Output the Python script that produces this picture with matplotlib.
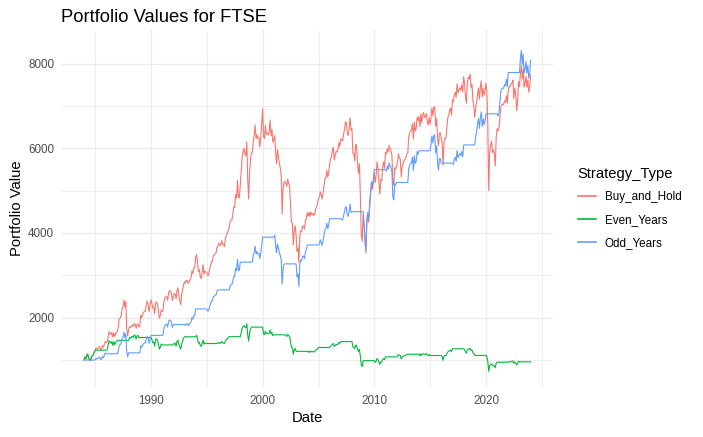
import datetime as dt
import matplotlib
matplotlib.use("Agg")
import matplotlib.pyplot as plt
import matplotlib.dates as mdates
from matplotlib.ticker import FixedLocator, NullFormatter
import pandas as pd

# ---------------- data (start value + month-end values, Jan 1984 - Dec 2023) ----------------
start_date = "1984-01-03"

buy_and_hold = [1000,
    1070, 1030, 1110, 1140, 1040, 1020, 990, 1070, 1100, 1120, 1180, 1232,
    1280, 1260, 1280, 1290, 1320, 1240, 1260, 1340, 1300, 1380, 1440, 1413,
    1430, 1540, 1670, 1630, 1600, 1650, 1540, 1640, 1560, 1630, 1640, 1679,
    1810, 1980, 1990, 2050, 2200, 2250, 2420, 2250, 2370, 1750, 1570, 1713,
    1790, 1770, 1800, 1830, 1790, 1860, 1850, 1750, 1830, 1850, 1780, 1793,
    2050, 2000, 2070, 2120, 2150, 2150, 2300, 2390, 2300, 2140, 2280, 2423,
    2340, 2230, 2250, 2100, 2350, 2370, 2330, 2160, 1990, 2050, 2180, 2144,
    2170, 2380, 2460, 2490, 2500, 2410, 2590, 2640, 2620, 2570, 2400, 2493,
    2570, 2560, 2440, 2650, 2700, 2520, 2400, 2310, 2550, 2660, 2780, 2847,
    2810, 2880, 2880, 2810, 2840, 2900, 2930, 3100, 3040, 3170, 3170, 3418,
    3490, 3330, 3090, 3130, 2970, 2920, 3080, 3250, 3030, 3100, 3080, 3066,
    2990, 3010, 3140, 3220, 3320, 3320, 3460, 3480, 3510, 3530, 3660, 3689,
    3760, 3730, 3700, 3820, 3750, 3710, 3680, 3870, 3950, 3980, 4060, 4119,
    4270, 4310, 4310, 4440, 4620, 4600, 4910, 4820, 5240, 4840, 4830, 5136,
    5460, 5770, 5930, 6000, 5870, 5830, 6150, 5250, 4800, 5440, 5740, 5883,
    5900, 6180, 6300, 6550, 6230, 6320, 6230, 6250, 6030, 6260, 6600, 6930,
    6270, 6230, 6540, 6330, 6360, 6310, 6370, 6670, 6290, 6440, 6140, 6222,
    6300, 5920, 5630, 5970, 5800, 5640, 5530, 5350, 4450, 5040, 5200, 5217,
    5160, 5100, 5270, 5170, 5090, 4660, 4250, 4230, 3720, 4040, 4170, 3940,
    3570, 3650, 3300, 3930, 4050, 4030, 4160, 4160, 4090, 4290, 4340, 4477,
    4390, 4490, 4390, 4490, 4430, 4460, 4410, 4460, 4570, 4620, 4700, 4814,
    4850, 4970, 4890, 4800, 4960, 5110, 5280, 5300, 5480, 5320, 5420, 5619,
    5760, 5790, 5960, 6020, 5720, 5830, 5930, 5910, 5960, 6130, 6050, 6221,
    6200, 6170, 6310, 6450, 6620, 6610, 6360, 6300, 6470, 6720, 6430, 6457,
    5880, 5880, 5700, 6090, 6050, 5630, 5410, 5640, 4900, 3950, 3800, 4434,
    4150, 3830, 3530, 4240, 4420, 4250, 4610, 4910, 5130, 5040, 5190, 5413,
    5190, 5350, 5680, 5550, 5190, 4920, 5260, 5230, 5550, 5680, 5530, 5900,
    5860, 5990, 5910, 6070, 5990, 5950, 5820, 5200, 5130, 5540, 5510, 5572,
    5680, 5870, 5770, 5740, 5320, 5570, 5640, 5710, 5740, 5780, 5870, 5898,
    6280, 6360, 6410, 6430, 6580, 6220, 6620, 6410, 6460, 6730, 6650, 6749,
    6510, 6810, 6600, 6780, 6840, 6740, 6730, 6820, 6620, 6550, 6720, 6566,
    6750, 6950, 6770, 6960, 6980, 6520, 6700, 6250, 6060, 6360, 6360, 6242,
    6080, 5600, 6170, 6240, 6230, 6500, 6720, 6780, 6900, 6950, 6780, 7143,
    7100, 7260, 7320, 7200, 7520, 7310, 7370, 7430, 7370, 7490, 7330, 7688,
    7530, 7230, 7060, 7510, 7680, 7640, 7750, 7430, 7510, 7130, 6980, 6728,
    6970, 7070, 7280, 7420, 7160, 7430, 7590, 7210, 7410, 7250, 7350, 7542,
    7290, 6580, 5000, 5900, 6080, 6170, 5900, 5960, 5870, 5580, 6270, 6461,
    6410, 6480, 6710, 6970, 7020, 7040, 7030, 7120, 7090, 7240, 7060, 7385,
    7460, 7460, 7520, 7540, 7610, 7170, 7420, 7280, 6890, 7090, 7570, 7452,
    7770, 7950, 7630, 7870, 7450, 7530, 7700, 7440, 7610, 7320, 7450, 7733,
]

even_years = [1000,
    1070, 1030, 1110, 1140, 1040, 1020, 990, 1070, 1100, 1120, 1180, 1232,
    1232, 1232, 1232, 1232, 1232, 1232, 1232, 1232, 1232, 1232, 1232, 1232,
    1247, 1343, 1456, 1421, 1395, 1439, 1343, 1430, 1360, 1421, 1430, 1464,
    1464, 1464, 1464, 1464, 1464, 1464, 1464, 1464, 1464, 1464, 1464, 1464,
    1530, 1513, 1538, 1564, 1530, 1590, 1581, 1496, 1564, 1581, 1521, 1532,
    1532, 1532, 1532, 1532, 1532, 1532, 1532, 1532, 1532, 1532, 1532, 1532,
    1480, 1410, 1423, 1328, 1486, 1499, 1473, 1366, 1258, 1296, 1378, 1356,
    1356, 1356, 1356, 1356, 1356, 1356, 1356, 1356, 1356, 1356, 1356, 1356,
    1398, 1392, 1327, 1441, 1469, 1371, 1305, 1256, 1387, 1447, 1512, 1548,
    1548, 1548, 1548, 1548, 1548, 1548, 1548, 1548, 1548, 1548, 1548, 1548,
    1581, 1508, 1399, 1418, 1345, 1322, 1395, 1472, 1372, 1404, 1395, 1389,
    1389, 1389, 1389, 1389, 1389, 1389, 1389, 1389, 1389, 1389, 1389, 1389,
    1416, 1404, 1393, 1438, 1412, 1397, 1386, 1457, 1487, 1498, 1529, 1551,
    1551, 1551, 1551, 1551, 1551, 1551, 1551, 1551, 1551, 1551, 1551, 1551,
    1649, 1743, 1791, 1812, 1773, 1761, 1857, 1586, 1450, 1643, 1733, 1777,
    1777, 1777, 1777, 1777, 1777, 1777, 1777, 1777, 1777, 1777, 1777, 1777,
    1608, 1597, 1677, 1623, 1631, 1618, 1633, 1710, 1613, 1651, 1574, 1595,
    1595, 1595, 1595, 1595, 1595, 1595, 1595, 1595, 1595, 1595, 1595, 1595,
    1577, 1559, 1611, 1581, 1556, 1425, 1299, 1293, 1137, 1235, 1275, 1205,
    1205, 1205, 1205, 1205, 1205, 1205, 1205, 1205, 1205, 1205, 1205, 1205,
    1182, 1209, 1182, 1209, 1192, 1201, 1187, 1201, 1230, 1244, 1265, 1296,
    1296, 1296, 1296, 1296, 1296, 1296, 1296, 1296, 1296, 1296, 1296, 1296,
    1328, 1335, 1374, 1388, 1319, 1344, 1368, 1363, 1374, 1414, 1395, 1435,
    1435, 1435, 1435, 1435, 1435, 1435, 1435, 1435, 1435, 1435, 1435, 1435,
    1307, 1307, 1267, 1353, 1344, 1251, 1202, 1253, 1089, 878, 844, 985,
    985, 985, 985, 985, 985, 985, 985, 985, 985, 985, 985, 985,
    944, 974, 1034, 1010, 944, 895, 957, 952, 1010, 1034, 1006, 1074,
    1074, 1074, 1074, 1074, 1074, 1074, 1074, 1074, 1074, 1074, 1074, 1074,
    1095, 1131, 1112, 1106, 1025, 1074, 1087, 1101, 1106, 1114, 1131, 1137,
    1137, 1137, 1137, 1137, 1137, 1137, 1137, 1137, 1137, 1137, 1137, 1137,
    1097, 1147, 1112, 1142, 1152, 1135, 1134, 1149, 1115, 1103, 1132, 1106,
    1106, 1106, 1106, 1106, 1106, 1106, 1106, 1106, 1106, 1106, 1106, 1106,
    1077, 992, 1093, 1106, 1104, 1152, 1191, 1201, 1223, 1231, 1201, 1266,
    1266, 1266, 1266, 1266, 1266, 1266, 1266, 1266, 1266, 1266, 1266, 1266,
    1240, 1191, 1163, 1237, 1265, 1258, 1276, 1224, 1237, 1174, 1149, 1108,
    1108, 1108, 1108, 1108, 1108, 1108, 1108, 1108, 1108, 1108, 1108, 1108,
    1071, 967, 735, 867, 893, 906, 867, 876, 862, 820, 921, 949,
    949, 949, 949, 949, 949, 949, 949, 949, 949, 949, 949, 949,
    959, 959, 966, 969, 978, 921, 953, 935, 885, 911, 973, 958,
    958, 958, 958, 958, 958, 958, 958, 958, 958, 958, 958, 958,
]

odd_years = [1000,
    1000, 1000, 1000, 1000, 1000, 1000, 1000, 1000, 1000, 1000, 1000, 1000,
    1039, 1023, 1039, 1047, 1071, 1006, 1023, 1088, 1055, 1120, 1169, 1147,
    1147, 1147, 1147, 1147, 1147, 1147, 1147, 1147, 1147, 1147, 1147, 1147,
    1237, 1353, 1359, 1400, 1503, 1537, 1653, 1537, 1619, 1196, 1073, 1170,
    1170, 1170, 1170, 1170, 1170, 1170, 1170, 1170, 1170, 1170, 1170, 1170,
    1338, 1305, 1351, 1383, 1403, 1403, 1501, 1560, 1501, 1396, 1488, 1581,
    1581, 1581, 1581, 1581, 1581, 1581, 1581, 1581, 1581, 1581, 1581, 1581,
    1600, 1755, 1814, 1836, 1844, 1777, 1910, 1947, 1932, 1895, 1770, 1838,
    1838, 1838, 1838, 1838, 1838, 1838, 1838, 1838, 1838, 1838, 1838, 1838,
    1814, 1859, 1859, 1814, 1833, 1872, 1892, 2001, 1963, 2047, 2047, 2207,
    2207, 2207, 2207, 2207, 2207, 2207, 2207, 2207, 2207, 2207, 2207, 2207,
    2152, 2167, 2260, 2318, 2390, 2390, 2491, 2505, 2527, 2541, 2635, 2655,
    2655, 2655, 2655, 2655, 2655, 2655, 2655, 2655, 2655, 2655, 2655, 2655,
    2752, 2778, 2778, 2862, 2978, 2965, 3165, 3107, 3378, 3120, 3113, 3311,
    3311, 3311, 3311, 3311, 3311, 3311, 3311, 3311, 3311, 3311, 3311, 3311,
    3321, 3478, 3546, 3686, 3506, 3557, 3506, 3518, 3394, 3523, 3714, 3900,
    3900, 3900, 3900, 3900, 3900, 3900, 3900, 3900, 3900, 3900, 3900, 3900,
    3949, 3711, 3529, 3742, 3635, 3535, 3466, 3353, 2789, 3159, 3259, 3270,
    3270, 3270, 3270, 3270, 3270, 3270, 3270, 3270, 3270, 3270, 3270, 3270,
    2963, 3029, 2739, 3262, 3361, 3345, 3452, 3452, 3394, 3560, 3602, 3716,
    3716, 3716, 3716, 3716, 3716, 3716, 3716, 3716, 3716, 3716, 3716, 3716,
    3744, 3836, 3775, 3705, 3829, 3944, 4076, 4091, 4230, 4107, 4184, 4337,
    4337, 4337, 4337, 4337, 4337, 4337, 4337, 4337, 4337, 4337, 4337, 4337,
    4322, 4301, 4399, 4497, 4615, 4608, 4434, 4392, 4511, 4685, 4483, 4502,
    4502, 4502, 4502, 4502, 4502, 4502, 4502, 4502, 4502, 4502, 4502, 4502,
    4214, 3889, 3584, 4305, 4488, 4315, 4681, 4985, 5209, 5117, 5270, 5496,
    5496, 5496, 5496, 5496, 5496, 5496, 5496, 5496, 5496, 5496, 5496, 5496,
    5459, 5580, 5505, 5654, 5580, 5543, 5422, 4844, 4779, 5161, 5133, 5191,
    5191, 5191, 5191, 5191, 5191, 5191, 5191, 5191, 5191, 5191, 5191, 5191,
    5527, 5598, 5642, 5659, 5791, 5474, 5826, 5642, 5686, 5923, 5853, 5940,
    5940, 5940, 5940, 5940, 5940, 5940, 5940, 5940, 5940, 5940, 5940, 5940,
    6106, 6287, 6125, 6296, 6315, 5898, 6061, 5654, 5482, 5754, 5754, 5647,
    5647, 5647, 5647, 5647, 5647, 5647, 5647, 5647, 5647, 5647, 5647, 5647,
    5613, 5739, 5787, 5692, 5945, 5779, 5826, 5874, 5826, 5921, 5795, 6078,
    6078, 6078, 6078, 6078, 6078, 6078, 6078, 6078, 6078, 6078, 6078, 6078,
    6297, 6387, 6577, 6703, 6468, 6712, 6857, 6513, 6694, 6550, 6640, 6813,
    6813, 6813, 6813, 6813, 6813, 6813, 6813, 6813, 6813, 6813, 6813, 6813,
    6759, 6833, 7076, 7350, 7402, 7424, 7413, 7508, 7476, 7634, 7445, 7787,
    7787, 7787, 7787, 7787, 7787, 7787, 7787, 7787, 7787, 7787, 7787, 7787,
    8119, 8307, 7973, 8224, 7785, 7869, 8046, 7774, 7952, 7649, 7785, 8081,
]

strategies = ["Buy_and_Hold", "Even_Years", "Odd_Years"]
colors = ["#F8766D", "#00BA38", "#619CFF"]
major_years = [1990, 2000, 2010, 2020]
minor_years = [1985, 1995, 2005, 2015, 2025]
major_y = [2000, 4000, 6000, 8000]
minor_y = [1000, 3000, 5000, 7000]

# ---------------- dates ----------------
month_ends = pd.date_range("1984-02-01", "2024-01-01", freq="MS") - pd.Timedelta(days=1)
dates = [pd.Timestamp(start_date)] + list(month_ends)

# ---------------- plot ----------------
plt.rcParams["font.family"] = ["Liberation Sans", "DejaVu Sans"]

W, H = 703, 437
fig = plt.figure(figsize=(W / 100, H / 100), dpi=100)
L, R, T, B = 61, 553, 30, 387
ax = fig.add_axes([L / W, 1 - B / H, (R - L) / W, (B - T) / H])

series = [buy_and_hold, even_years, odd_years]
handles = []
for name, vals, c in zip(strategies, series, colors):
    h, = ax.plot(dates, vals, color=c, lw=0.8, label=name, zorder=3)
    handles.append(h)

ax.set_xlim(mdates.date2num(dt.datetime(1981, 12, 10)), mdates.date2num(dt.datetime(2026, 1, 1)))
ax.set_ylim(363, 8791)

ax.xaxis.set_major_locator(FixedLocator([mdates.date2num(dt.datetime(y, 1, 1)) for y in major_years]))
ax.xaxis.set_minor_locator(FixedLocator([mdates.date2num(dt.datetime(y, 1, 1)) for y in minor_years]))
ax.set_xticklabels([str(y) for y in major_years])
ax.xaxis.set_minor_formatter(NullFormatter())
ax.yaxis.set_major_locator(FixedLocator(major_y))
ax.yaxis.set_minor_locator(FixedLocator(minor_y))
ax.set_yticklabels([str(v) for v in major_y])
ax.yaxis.set_minor_formatter(NullFormatter())

ax.grid(which="major", color="#EBEBEB", lw=1.0, zorder=0)
ax.grid(which="minor", color="#EBEBEB", lw=0.6, zorder=0)
ax.set_axisbelow(True)
for s in ax.spines.values():
    s.set_visible(False)
ax.tick_params(which="both", length=0)
ax.tick_params(axis="x", labelsize=8.4, labelcolor="#4D4D4D", pad=6)
ax.tick_params(axis="y", labelsize=8.4, labelcolor="#4D4D4D", pad=5)

ax.set_xlabel("Date", fontsize=10.6, color="black", labelpad=3)
ax.set_ylabel("Portfolio Value", fontsize=10.6, color="black", labelpad=3)

fig.text(L / W, 1 - 17 / H, "Portfolio Values for FTSE", fontsize=13.2,
         color="black", ha="left", va="center")

leg = fig.legend(handles=handles, labels=strategies, loc="upper left",
                 bbox_to_anchor=(566 / W, 1 - 155 / H), frameon=False,
                 fontsize=8.4, title="Strategy_Type", title_fontsize=10.6,
                 handlelength=1.55, handletextpad=0.75, labelspacing=0.92,
                 alignment="left", borderaxespad=0, borderpad=1.0)
for lh in leg.get_lines():
    lh.set_linewidth(1.2)

fig.savefig("out.png", dpi=100)
